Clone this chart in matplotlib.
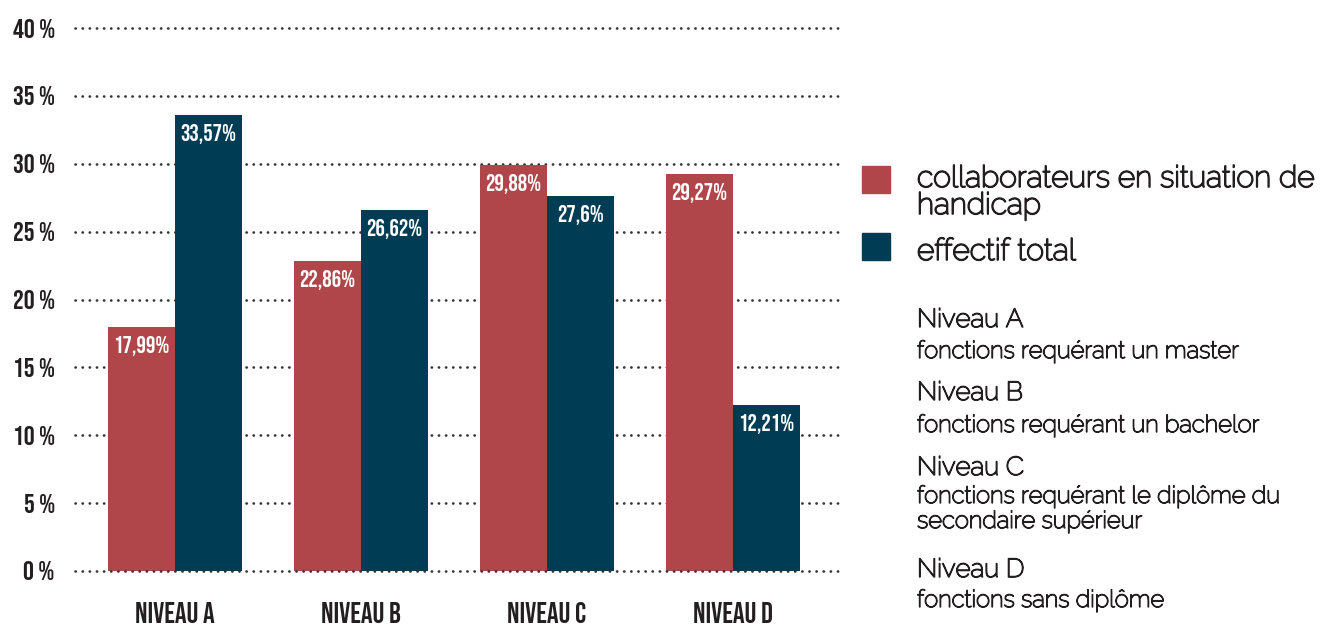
import matplotlib
matplotlib.use("Agg")
import matplotlib.pyplot as plt
import matplotlib.patheffects as pe
import numpy as np

categories = ["NIVEAU A", "NIVEAU B", "NIVEAU C", "NIVEAU D"]
handicap = [17.99, 22.86, 29.88, 29.27]
total = [33.57, 26.62, 27.6, 12.21]
handicap_labels = ["17,99%", "22,86%", "29,88%", "29,27%"]
total_labels = ["33,57%", "26,62%", "27,6%", "12,21%"]
yticks = [0, 5, 10, 15, 20, 25, 30, 35, 40]
ytick_labels = ["0 %", "5 %", "10 %", "15 %", "20 %", "25 %", "30 %", "35 %", "40 %"]
series_names = ["collaborateurs en situation de\nhandicap", "effectif total"]
level_titles = ["Niveau A", "Niveau B", "Niveau C", "Niveau D"]
level_descs = ["fonctions requérant un master", "fonctions requérant un bachelor",
               "fonctions requérant le diplôme du\nsecondaire supérieur", "fonctions sans diplôme"]

COND = ["Bebas Neue", "DejaVu Sans"]
LIGHT = ["Raleway", "Lato", "DejaVu Sans"]

RED = "#b0454a"
TEAL = "#003d55"
TXT = "#231f20"
DOT = "#333333"

W, H = 1324, 624
fig = plt.figure(figsize=(W/100, H/100), dpi=100)
ax = fig.add_axes([75/W, 1-571/H, (838-75)/W, (571-28)/H])

x = np.arange(len(categories))
w = 0.36
b1 = ax.bar(x - w/2, handicap, w, color=RED, zorder=3)
b2 = ax.bar(x + w/2, total, w, color=TEAL, zorder=3)

for bars, labs in ((b1, handicap_labels), (b2, total_labels)):
    for r, lab in zip(bars, labs):
        ax.annotate(lab, (r.get_x() + r.get_width()/2, r.get_height()),
                    xytext=(0, -6.5), textcoords="offset points", ha="center", va="top",
                    color="white", fontsize=17, family=COND, zorder=4)

ax.set_xlim(-100/186, (838-175)/186)
ax.set_ylim(0, 40)
for yv in yticks:
    ax.axhline(yv, color=DOT, linestyle=(0, (0.1, 2.6)), dash_capstyle="round",
               linewidth=1.9, zorder=5 if yv == 0 else 1, clip_on=False)
ax.set_yticks(yticks)
ax.set_yticklabels(ytick_labels, fontsize=19.5, family=COND, color=TXT)
ax.tick_params(axis="y", length=0, pad=14.5)
ax.set_xticks(x)
ax.set_xticklabels(categories, fontsize=21, family=COND, color=TXT)
ax.tick_params(axis="x", length=0, pad=22)
for s in ax.spines.values():
    s.set_visible(False)

def px(xp, yp):
    return xp/W, 1-yp/H

def thick(fs):
    return [pe.withStroke(linewidth=0.055*fs, foreground=TXT)]

fig.patches.append(plt.Rectangle(px(862, 193), 28/W, 27/H, color=RED, transform=fig.transFigure))
fig.patches.append(plt.Rectangle(px(862, 260), 28/W, 27/H, color=TEAL, transform=fig.transFigure))

leg_baselines = [[187, 214], [260]]
for name, bls in zip(series_names, leg_baselines):
    for line, bl in zip(name.split("\n"), bls):
        fig.text(*px(917, bl), line, fontsize=21.7, family=LIGHT, color=TXT,
                 va="baseline", path_effects=thick(21.7))

title_baselines = [327, 400, 475, 577]
desc_baselines = [[358], [432], [503, 528], [607]]
for title, tb, desc, dbs in zip(level_titles, title_baselines, level_descs, desc_baselines):
    fig.text(*px(917, tb), title, fontsize=18.7, family=LIGHT, color=TXT, va="baseline",
             path_effects=thick(18.7))
    for line, bl in zip(desc.split("\n"), dbs):
        fig.text(*px(917, bl), line, fontsize=17.2, family=LIGHT, color=TXT, va="baseline",
                 path_effects=thick(17.2))

fig.savefig("out.png", dpi=100)
